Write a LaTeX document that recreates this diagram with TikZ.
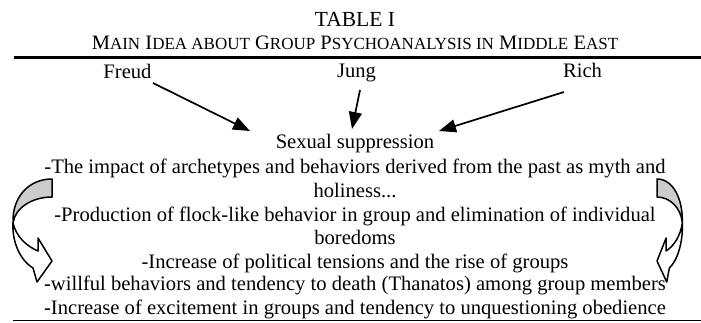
\documentclass[tikz,border=0pt]{standalone}
\usepackage{fontspec}
\setmainfont{Liberation Serif}
\usetikzlibrary{arrows.meta}
\newcommand\bigc[1]{{\fontsize{20.5}{24}\selectfont #1}}
\newcommand\smc[1]{{\fontsize{17}{20}\selectfont #1}}
\begin{document}
\begin{tikzpicture}[x=1pt,y=-1pt,
  txt/.style={font=\fontsize{20.6}{24}\selectfont, inner sep=0pt, anchor=base},
  arr/.style={line width=1.7pt, -{Triangle[length=17pt,width=13pt]}},
  band/.style={line width=1.5pt, line join=round},
  backfill/.style={band, fill=gray!40},
  frontfill/.style={band, fill=white}]
\useasboundingbox (0,0) rectangle (701,322);
% titles
\node[txt, font=\fontsize{21.5}{24}\selectfont] (title) at (355,26) {TABLE I};
\node[txt] (sub) at (355,49) {\bigc{M}\smc{AIN} \bigc{I}\smc{DEA ABOUT} \bigc{G}\smc{ROUP} \bigc{P}\smc{SYCHOANALYSIS IN} \bigc{M}\smc{IDDLE} \bigc{E}\smc{AST}};
\coordinate (topL) at (14,57.5);
\coordinate (topR) at (701,57.5);
\draw[line width=3.6pt] (topL) -- (topR);
% sources
\node[txt] (freud) at (127.5,78) {Freud};
\node[txt] (jung) at (356.5,77) {Jung};
\node[txt] (rich) at (582.5,77) {Rich};
% lines
\node[txt] (sex) at (355,148) {Sexual suppression};
\node[txt] (l1) at (355,173.3) {-The impact of archetypes and behaviors derived from the past as myth and};
\node[txt] (l2) at (355,197.3) {holiness...};
\node[txt] (l3) at (355,221.7) {-Production of flock-like behavior in group and elimination of individual};
\node[txt] (l4) at (355,244.5) {boredoms};
\node[txt] (l5) at (355,268.3) {-Increase of political tensions and the rise of groups};
\node[txt] (l6) at (355,290.7) {-willful behaviors and tendency to death (Thanatos) among group members};
\node[txt] (l7) at (355,314.3) {-Increase of excitement in groups and tendency to unquestioning obedience};
\coordinate (botL) at (13,320.5);
\coordinate (botR) at (701,320.5);
\draw[line width=1.5pt] (botL) -- (botR);
% arrows
\coordinate (fS) at (153,83);
\coordinate (fE) at (250,131);
\coordinate (jS) at (360,90);
\coordinate (jE) at (352,129);
\coordinate (rS) at (564,92);
\coordinate (rE) at (439,131);
\draw[arr] (fS) -- (fE);
\draw[arr] (jS) -- (jE);
\draw[arr] (rS) -- (rE);
% curved arrows
\begin{scope}
\draw[backfill] (52,179) -- (52,197) .. controls (32,197) and (15,208) .. (13,223)
   .. controls (12,198) and (28,179) .. (52,179) -- cycle;
\draw[frontfill] (13,223) .. controls (16,236) and (26,246) .. (38,251) -- (38,238) -- (52,261) -- (37,282) -- (33,268)
   .. controls (20,260) and (12,242) .. (13,223) -- cycle;
\end{scope}
\begin{scope}[xshift=690.8pt, xscale=-0.65]
\draw[backfill] (52,179) -- (52,197) .. controls (32,197) and (15,208) .. (13,223)
   .. controls (12,198) and (28,179) .. (52,179) -- cycle;
\draw[frontfill] (13,223) .. controls (16,236) and (26,246) .. (38,251) -- (38,238) -- (52,261) -- (37,282) -- (33,268)
   .. controls (20,260) and (12,242) .. (13,223) -- cycle;
\end{scope}
\end{tikzpicture}
\end{document}
